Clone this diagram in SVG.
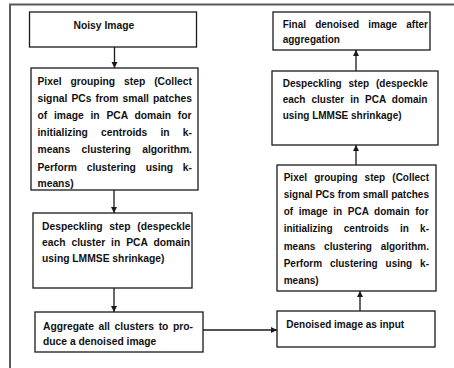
<svg xmlns="http://www.w3.org/2000/svg" width="454" height="368" viewBox="0 0 454 368">
  <style>
    .frame { fill: none; stroke: #5a5a5a; stroke-width: 2; }
    .box { fill: #ffffff; stroke: #1a1a1a; stroke-width: 1.3; }
    .edge { fill: none; stroke: #1a1a1a; stroke-width: 1.3; marker-end: url(#ah); }
    text { font-family: "Liberation Sans", Arial, sans-serif; font-weight: bold; fill: #111; }
    .l { font-size: 10.3px; }
    .r { font-size: 10px; }
  </style>
  <defs>
    <marker id="ah" markerUnits="userSpaceOnUse" markerWidth="7" markerHeight="7" refX="6" refY="3.5" orient="auto">
      <path d="M0,0.5 L6,3.5 L0,6.5 z" fill="#1a1a1a"/>
    </marker>
  </defs>

  <!-- page frame: top rule and left rule -->
  <path class="frame" d="M9 4.5 H454 M10 4 V368"/>

  <!-- connectors -->
  <g id="connectors">
    <path class="edge" d="M114.5 47 V68"/>
    <path class="edge" d="M114 190 V213"/>
    <path class="edge" d="M114 288 V312"/>
    <path class="edge" d="M203 330 H277"/>
    <path class="edge" d="M360 311 V291"/>
    <path class="edge" d="M356 165 V145"/>
    <path class="edge" d="M356 71 V50"/>
  </g>

  <!-- left column -->
  <g id="noisy-image">
    <rect class="box" x="29.5" y="12" width="167" height="35"/>
    <text class="l" x="73.5" y="28.5">Noisy Image</text>
  </g>

  <g id="pixel-grouping-1">
    <rect class="box" x="31" y="68" width="167" height="122"/>
    <text class="l" x="37.5" y="84.5" word-spacing="6.09">Pixel grouping step (Collect</text>
    <text class="l" x="37.5" y="101.7" word-spacing="1.27">signal PCs from small patches</text>
    <text class="l" x="37.5" y="118.9" word-spacing="3.89">of image in PCA domain for</text>
    <text class="l" x="37.5" y="136.1" word-spacing="10.29">initializing centroids in k-</text>
    <text class="l" x="37.5" y="153.3" word-spacing="8.56">means clustering algorithm.</text>
    <text class="l" x="37.5" y="170.5" word-spacing="6.86">Perform clustering using k-</text>
    <text class="l" x="37.5" y="187.2">means)</text>
  </g>

  <g id="despeckling-1">
    <rect class="box" x="33" y="213" width="159" height="75"/>
    <text class="l" x="42" y="230" word-spacing="3.84">Despeckling step (despeckle</text>
    <text class="l" x="42" y="246" word-spacing="3.07">each cluster in PCA domain</text>
    <text class="l" x="42" y="262">using LMMSE shrinkage)</text>
  </g>

  <g id="aggregate">
    <rect class="box" x="35" y="312" width="168" height="40"/>
    <text class="l" x="43" y="329.5" word-spacing="1.73">Aggregate all clusters to pro-</text>
    <text class="l" x="43" y="344.5">duce a denoised image</text>
  </g>

  <!-- right column -->
  <g id="denoised-input">
    <rect class="box" x="277" y="311" width="158" height="36"/>
    <text class="r" x="286.3" y="327.5">Denoised image as input</text>
  </g>

  <g id="pixel-grouping-2">
    <rect class="box" x="277" y="165" width="159" height="126"/>
    <text class="r" x="283.7" y="180.5" word-spacing="4.35">Pixel grouping step (Collect</text>
    <text class="r" x="283.7" y="197.8" word-spacing="0.06">signal PCs from small patches</text>
    <text class="r" x="283.7" y="215.1" word-spacing="2.83">of image in PCA domain for</text>
    <text class="r" x="283.7" y="232.4" word-spacing="8.42">initializing centroids in k-</text>
    <text class="r" x="283.7" y="249.7" word-spacing="5.97">means clustering algorithm.</text>
    <text class="r" x="283.7" y="267" word-spacing="5.09">Perform clustering using k-</text>
    <text class="r" x="283.7" y="284.3">means)</text>
  </g>

  <g id="despeckling-2">
    <rect class="box" x="272" y="71" width="166" height="74"/>
    <text class="r" x="282.7" y="87" word-spacing="4.14">Despeckling step (despeckle</text>
    <text class="r" x="282.7" y="103" word-spacing="3.19">each cluster in PCA domain</text>
    <text class="r" x="282.7" y="119">using LMMSE shrinkage)</text>
  </g>

  <g id="final-image">
    <rect class="box" x="273" y="12" width="157" height="38"/>
    <text class="r" x="282.7" y="28" word-spacing="6.38">Final denoised image after</text>
    <text class="r" x="282.7" y="43">aggregation</text>
  </g>
</svg>
